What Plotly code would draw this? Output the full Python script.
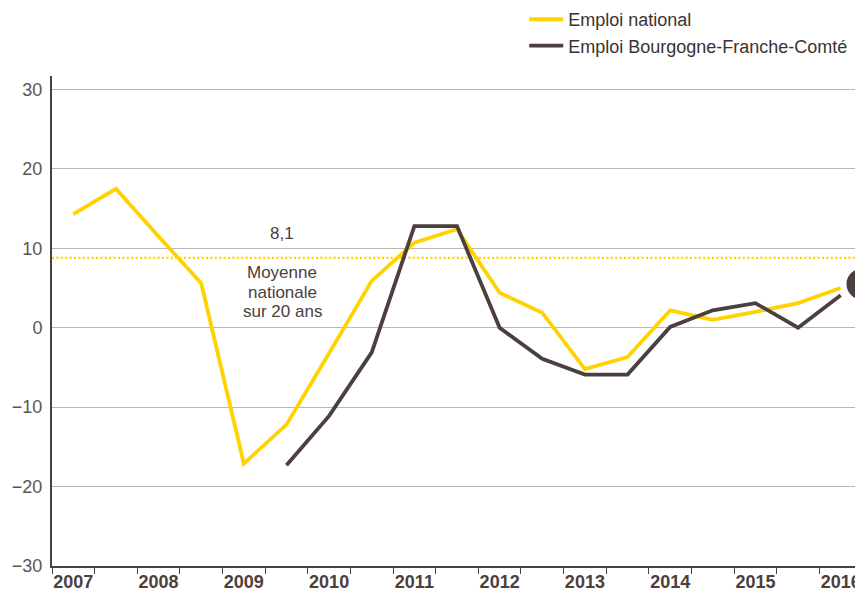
import plotly.graph_objects as go

# ---- data ----
semesters = [2007.25 + 0.5 * i for i in range(19)]   # semester centres 2007 S1 .. 2016 S1
national = [14.3, 17.5, 11.5, 5.6, -17.1, -12.2, -3.2, 5.9, 10.7, 12.4,
            4.4, 1.9, -5.2, -3.7, 2.2, 1.0, 2.0, 3.1, 5.0]
bfc = [None, None, None, None, None, -17.3, -11.1, -3.1, 12.8, 12.8,
       0.0, -3.9, -5.9, -5.9, 0.1, 2.2, 3.1, 0.0, 4.1]
years = list(range(2007, 2017))
year_labels = [str(y) for y in years]
avg_value = 8.8
avg_label = "8,1"
avg_text = ["Moyenne", "nationale", "sur 20 ans"]
bubble_label = "4"
y_ticks = [-30, -20, -10, 0, 10, 20, 30]

YELLOW = "#FFD200"
DARK = "#4B403D"
GRID = "#BDB6B4"
TEXT = "#4A4040"

fig = go.Figure()

# average dotted line
fig.add_trace(go.Scatter(
    x=[2007, 2016.5], y=[avg_value, avg_value], mode="lines",
    line=dict(color=YELLOW, width=2.2, dash="2px,2.4px"),
    showlegend=False, hoverinfo="skip"))

fig.add_trace(go.Scatter(
    x=semesters, y=national, mode="lines", name="Emploi national",
    line=dict(color=YELLOW, width=3.8)))
fig.add_trace(go.Scatter(
    x=semesters, y=bfc, mode="lines", name="Emploi Bourgogne-Franche-Comté",
    line=dict(color=DARK, width=3.8)))

# bubble at right edge (cut by the page edge)
fig.add_trace(go.Scatter(
    x=[2016.5], y=[bfc[-1] + 1.4], mode="markers+text",
    marker=dict(size=31, color=DARK, line=dict(width=0)),
    text=[bubble_label], textposition="middle center",
    textfont=dict(color="white", size=20, family="Liberation Sans"),
    showlegend=False, hoverinfo="skip", cliponaxis=False))

# annotations
x_text = 2009.7
fig.add_annotation(x=x_text, y=avg_value, xref="x", yref="y", text=avg_label,
                   showarrow=False, yshift=24, yanchor="middle",
                   font=dict(size=17, color=TEXT, family="Liberation Sans"))
for i, line in enumerate(avg_text):
    fig.add_annotation(x=x_text, y=avg_value, xref="x", yref="y", text=line,
                       showarrow=False, yshift=-15 - 19.5 * i, yanchor="middle",
                       font=dict(size=17, color=TEXT, family="Liberation Sans"))

# page body has an 8px default margin, so the figure is 8px smaller
fig.update_layout(
    width=855, height=581,
    margin=dict(l=44, r=1, t=68, b=23, autoexpand=False),
    paper_bgcolor="white", plot_bgcolor="white",
    font=dict(family="Liberation Sans", color=TEXT),
    legend=dict(x=0.583, y=1.153, xanchor="left", yanchor="top",
                font=dict(size=18, color="#3A3331"),
                itemwidth=34, bgcolor="rgba(0,0,0,0)", tracegroupgap=0),
    xaxis=dict(range=[2007, 2016.5], automargin=False,
               tickvals=[y + 0.25 for y in years], ticktext=year_labels,
               ticks="", showgrid=False, zeroline=False,
               showline=True, linecolor=DARK, linewidth=2,
               tickfont=dict(size=18, family="Liberation Sans", color=DARK, weight="bold"),
               ticklabelstandoff=-2,
               minor=dict(tick0=2007, dtick=0.5, ticks="outside", ticklen=6,
                          tickcolor=DARK, tickwidth=1, showgrid=False)),
    yaxis=dict(range=[-30, 31.7], tickvals=y_ticks, automargin=False,
               ticks="", showgrid=True, gridcolor=GRID, gridwidth=1,
               zeroline=False, showline=True, linecolor=DARK, linewidth=2,
               tickfont=dict(size=18, family="Liberation Sans", color="#5E5553"),
               ticklabelstandoff=4),
)

fig.write_html("out.html")
